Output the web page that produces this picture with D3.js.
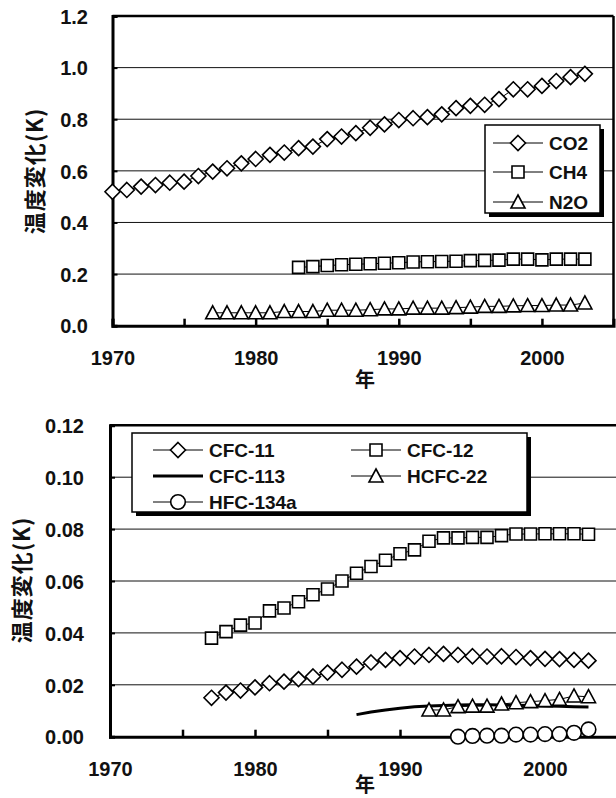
<!DOCTYPE html>
<html>
<head>
<meta charset="utf-8">
<script src="https://cdn.jsdelivr.net/npm/d3@7"></script>
<style>
  body { margin: 0; background: #fff; }
  svg { display: block; }
  .tick-label { font-family: "Liberation Sans", Arial, sans-serif; font-size: 20px; font-weight: bold; fill: #111; }
  .legend-label { font-family: "Liberation Sans", Arial, sans-serif; font-size: 19px; font-weight: bold; fill: #111; }
  .axis-title { font-family: "Noto Sans CJK JP", sans-serif; font-size: 22px; font-weight: bold; fill: #111; }
</style>
</head>
<body>
<svg id="chart" width="616" height="798"></svg>
<script>
/*** DATA ***/
//greenhouse gases, one value per year
var co2Start = 1970;
var co2Values = [0.519, 0.526, 0.539, 0.545, 0.554, 0.558, 0.580, 0.597, 0.610, 0.629,
                 0.646, 0.662, 0.671, 0.688, 0.694, 0.723, 0.733, 0.746, 0.767, 0.780,
                 0.797, 0.804, 0.808, 0.819, 0.843, 0.852, 0.856, 0.878, 0.916, 0.916,
                 0.929, 0.948, 0.963, 0.976];
var ch4Start = 1983;
var ch4Values = [0.226, 0.229, 0.233, 0.236, 0.238, 0.240, 0.242, 0.244, 0.247, 0.248,
                 0.249, 0.250, 0.252, 0.253, 0.254, 0.258, 0.258, 0.255, 0.258, 0.258,
                 0.258];
var n2oStart = 1977;
var n2oValues = [0.050, 0.050, 0.050, 0.050, 0.050, 0.055, 0.055, 0.055, 0.060, 0.060,
                 0.060, 0.062, 0.065, 0.065, 0.068, 0.068, 0.068, 0.070, 0.072, 0.075,
                 0.075, 0.077, 0.078, 0.078, 0.080, 0.080, 0.088];

//halocarbons
var cfc11Start = 1977;
var cfc11Values = [0.0150, 0.0170, 0.0178, 0.0190, 0.0206, 0.0212, 0.0222, 0.0232, 0.0247, 0.0258,
                   0.0270, 0.0286, 0.0296, 0.0303, 0.0309, 0.0315, 0.0319, 0.0315, 0.0310, 0.0309,
                   0.0310, 0.0307, 0.0303, 0.0300, 0.0299, 0.0296, 0.0293];
var cfc12Start = 1977;
var cfc12Values = [0.0380, 0.0405, 0.0430, 0.0438, 0.0485, 0.0496, 0.0520, 0.0547, 0.0569, 0.0600,
                   0.0630, 0.0656, 0.0680, 0.0705, 0.0720, 0.0753, 0.0766, 0.0766, 0.0768, 0.0768,
                   0.0775, 0.0781, 0.0781, 0.0782, 0.0782, 0.0782, 0.0780];
var cfc113Start = 1987;
var cfc113Values = [0.0085, 0.0095, 0.0103, 0.0110, 0.0115, 0.0118, 0.0120, 0.0122, 0.0123, 0.0123,
                    0.0122, 0.0121, 0.0120, 0.0118, 0.0117, 0.0115, 0.0114];
var hcfc22Start = 1992;
var hcfc22Values = [0.0103, 0.0103, 0.0116, 0.0118, 0.0118, 0.0126, 0.0131, 0.0135, 0.0139, 0.0144,
                    0.0157, 0.0154];
var hfc134aStart = 1994;
var hfc134aValues = [0.0000, 0.0003, 0.0004, 0.0004, 0.0008, 0.0008, 0.0010, 0.0010, 0.0015, 0.0028];

//axes
var xDomain = [1970, 2005];
var xMinorTicks = [1975, 1985, 1995];
var xTickLabels = [1970, 1980, 1990, 2000];
var topYTicks = [0, 0.2, 0.4, 0.6, 0.8, 1.0, 1.2];
var bottomYTicks = [0, 0.02, 0.04, 0.06, 0.08, 0.10, 0.12];
var yTitle = '温度変化(K)';
var xTitle = '年';

var svg = d3.select('#chart');

/*** MARKERS ***/
function markerPath(type) {
  switch(type) {
    case 'diamond':
      return 'M0,-7.5L7.5,0L0,7.5L-7.5,0Z';
    case 'square':
      return 'M-6,-6H6V6H-6Z';
    case 'triangle':
      return 'M0,-7L7,6H-7Z';
    case 'circle':
      return d3.symbol(d3.symbolCircle, Math.PI * 7.3 * 7.3)();
    default:
      return null;
  }
}

function toPoints(start, values) {
  return values.map(function(v, i) { return {year: start + i, value: v}; });
}

/*** PANEL ***/
function drawPanel(cfg) {
  var x = d3.scaleLinear().domain(xDomain).range([cfg.left, cfg.right]);
  var y = d3.scaleLinear().domain([0, cfg.yTicks[cfg.yTicks.length-1]]).range([cfg.bottom, cfg.top]);
  var g = svg.append('g');

  //gridlines
  g.selectAll('.grid')
    .data(cfg.yTicks.slice(1, -1))
    .enter().append('line')
    .attr('x1', cfg.left).attr('x2', cfg.right)
    .attr('y1', function(d) { return y(d); })
    .attr('y2', function(d) { return y(d); })
    .attr('stroke', '#111').attr('stroke-width', 1);

  //frame
  g.append('line')
    .attr('x1', cfg.left).attr('x2', cfg.right)
    .attr('y1', cfg.top).attr('y2', cfg.top)
    .attr('stroke', '#000').attr('stroke-width', 2.5);
  if (cfg.rightBorder) {
    g.append('line')
      .attr('x1', cfg.right).attr('x2', cfg.right)
      .attr('y1', cfg.top).attr('y2', cfg.bottom)
      .attr('stroke', '#000').attr('stroke-width', 2.5);
  }

  //y axis
  var yAxis = d3.axisLeft(y)
    .tickValues(cfg.yTicks)
    .tickSize(-5)
    .tickFormat(d3.format(cfg.yFormat));
  var ya = g.append('g')
    .attr('transform', 'translate(' + cfg.left + ',0)')
    .call(yAxis);
  ya.select('.domain').attr('stroke-width', 3);
  ya.selectAll('.tick line').attr('stroke-width', 2);
  ya.selectAll('.tick text')
    .attr('class', 'tick-label')
    .attr('x', cfg.yLabelX - cfg.left)
    .attr('dy', '0.36em');

  //x axis: ticks every 5 years, labels every 10
  var xAxis = d3.axisBottom(x)
    .tickValues(xTickLabels.concat(xMinorTicks).sort())
    .tickSize(-7)
    .tickFormat(function(d) { return xTickLabels.indexOf(d) >= 0 ? d : ''; });
  var xa = g.append('g')
    .attr('transform', 'translate(0,' + cfg.bottom + ')')
    .call(xAxis);
  xa.select('.domain').attr('stroke-width', 3);
  xa.selectAll('.tick line').attr('stroke-width', 2.5);
  xa.selectAll('.tick text')
    .attr('class', 'tick-label')
    .attr('y', cfg.xLabelY - cfg.bottom)
    .attr('dy', 0);

  //axis titles
  g.append('text')
    .attr('class', 'axis-title')
    .attr('text-anchor', 'middle')
    .attr('letter-spacing', 1)
    .attr('transform', 'translate(' + cfg.yTitleX + ',' + cfg.yTitleY + ') rotate(-90)')
    .attr('dy', '0.35em')
    .text(yTitle);
  g.append('text')
    .attr('class', 'axis-title')
    .attr('text-anchor', 'middle')
    .style('font-size', '20px')
    .attr('x', 365).attr('y', cfg.xTitleY)
    .attr('dy', '0.35em')
    .text(xTitle);

  //series
  var line = d3.line()
    .x(function(d) { return x(d.year); })
    .y(function(d) { return y(d.value); });

  cfg.series.forEach(function(s) {
    var pts = toPoints(s.start, s.values);
    g.append('path')
      .datum(pts)
      .attr('d', line)
      .attr('fill', 'none')
      .attr('stroke', '#000')
      .attr('stroke-width', s.marker ? 1 : 3);
    if (s.marker) {
      g.selectAll(null)
        .data(pts)
        .enter().append('path')
        .attr('d', markerPath(s.marker))
        .attr('transform', function(d) { return 'translate(' + x(d.year) + ',' + y(d.value) + ')'; })
        .attr('fill', '#fff')
        .attr('stroke', '#000')
        .attr('stroke-width', 1.6);
    }
  });

  //legend
  var lg = cfg.legend;
  g.append('rect')
    .attr('x', lg.x + 4).attr('y', lg.y + 4)
    .attr('width', lg.w).attr('height', lg.h)
    .attr('fill', '#000');
  g.append('rect')
    .attr('x', lg.x).attr('y', lg.y)
    .attr('width', lg.w).attr('height', lg.h)
    .attr('fill', '#fff')
    .attr('stroke', '#000').attr('stroke-width', 1.5);

  cfg.series.forEach(function(s, i) {
    var pos = lg.items[i];
    var item = g.append('g').attr('transform', 'translate(' + pos[0] + ',' + pos[1] + ')');
    item.append('line')
      .attr('x1', 0).attr('x2', lg.lineLen)
      .attr('stroke', '#000')
      .attr('stroke-width', s.marker ? 1 : 3);
    if (s.marker) {
      item.append('path')
        .attr('d', markerPath(s.marker))
        .attr('transform', 'translate(' + lg.lineLen / 2 + ',0)')
        .attr('fill', '#fff')
        .attr('stroke', '#000')
        .attr('stroke-width', 1.6);
    }
    item.append('text')
      .attr('class', 'legend-label')
      .attr('x', lg.lineLen + 6)
      .attr('dy', '0.36em')
      .text(s.name);
  });
}

drawPanel({
  left: 112.5, right: 613.5, top: 16, bottom: 325.7,
  rightBorder: true,
  yTicks: topYTicks, yFormat: '.1f',
  yLabelX: 88, xLabelY: 365,
  yTitleX: 35, yTitleY: 171, xTitleY: 380,
  series: [
    {name: 'CO2', start: co2Start, values: co2Values, marker: 'diamond'},
    {name: 'CH4', start: ch4Start, values: ch4Values, marker: 'square'},
    {name: 'N2O', start: n2oStart, values: n2oValues, marker: 'triangle'}
  ],
  legend: {
    x: 485, y: 125, w: 115, h: 88, lineLen: 50,
    items: [[493, 143], [493, 172], [493, 202]]
  }
});

drawPanel({
  left: 110, right: 617.5, top: 425.3, bottom: 736.7,
  rightBorder: false,
  yTicks: bottomYTicks, yFormat: '.2f',
  yLabelX: 84, xLabelY: 776,
  yTitleX: 22, yTitleY: 580, xTitleY: 785,
  series: [
    {name: 'CFC-11', start: cfc11Start, values: cfc11Values, marker: 'diamond'},
    {name: 'CFC-12', start: cfc12Start, values: cfc12Values, marker: 'square'},
    {name: 'CFC-113', start: cfc113Start, values: cfc113Values, marker: null},
    {name: 'HCFC-22', start: hcfc22Start, values: hcfc22Values, marker: 'triangle'},
    {name: 'HFC-134a', start: hfc134aStart, values: hfc134aValues, marker: 'circle'}
  ],
  legend: {
    x: 132, y: 433, w: 395, h: 79, lineLen: 50,
    items: [[153, 450], [351, 450], [153, 476], [351, 476], [153, 502]]
  }
});
</script>
</body>
</html>
